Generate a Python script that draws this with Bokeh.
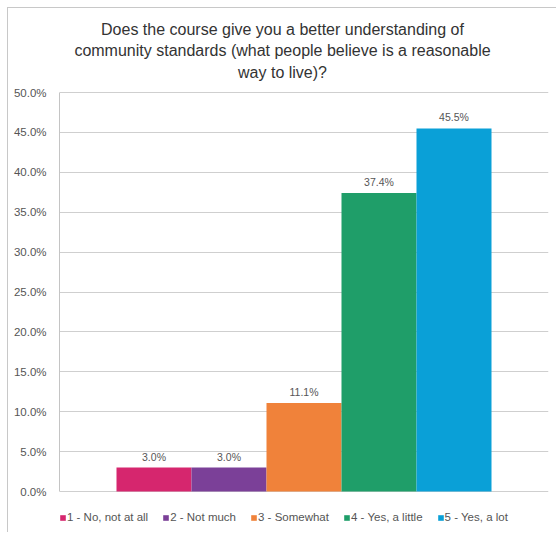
from bokeh.plotting import figure
from bokeh.models import (ColumnDataSource, FactorRange, NumeralTickFormatter, Label,
                          Range1d, FixedTicker)
from bokeh.core.properties import value
from bokeh.embed import file_html
from bokeh.resources import INLINE

categories = ["1 - No, not at all", "2 - Not much", "3 - Somewhat", "4 - Yes, a little", "5 - Yes, a lot"]
values = [0.030, 0.030, 0.111, 0.374, 0.455]
value_labels = ["3.0%", "3.0%", "11.1%", "37.4%", "45.5%"]
colors = ["#D6266E", "#7B4098", "#F0823A", "#1F9E69", "#0AA0D7"]
y_ticks = [0.0, 0.05, 0.10, 0.15, 0.20, 0.25, 0.30, 0.35, 0.40, 0.45, 0.50]
title_lines = ["Does the course give you a better understanding of",
               "community standards (what people believe is a reasonable",
               "way to live)?"]

FONT = "Liberation Sans"
OFF = 8            # canvas starts 8px in (7px margin + 1px frame line)
W, H = 557 - OFF, 533 - OFF
# value axis: 0 at page pixel 491, 0.5 at page pixel 92 (frame spans the whole canvas height)
PX_PER_UNIT = (491 - 92) / 0.5
y_lo = -(533 - 491) / PX_PER_UNIT
y_hi = 0.5 + (92 - OFF) / PX_PER_UNIT

src = ColumnDataSource(dict(cat=categories, val=values, lab=value_labels, col=colors))

p = figure(width=W, height=H, output_backend="svg", toolbar_location=None,
           x_range=FactorRange(factors=categories, range_padding=0.304),
           y_range=Range1d(y_lo, y_hi),
           min_border_left=59 - OFF, min_border_right=9, min_border_top=0, min_border_bottom=0)
p.margin = (7, 0, 0, 7)
p.styles = {"border-left": "1px solid #c8c8c8", "border-top": "1px solid #c8c8c8"}
p.outline_line_color = None
p.background_fill_color = "white"
p.border_fill_color = "white"

p.vbar(x="cat", top="val", width=1.0, source=src, fill_color="col", line_color=None,
       legend_field="cat")
p.text(x="cat", y="val", text="lab", source=src, text_align="center", text_baseline="bottom",
       y_offset=-5, text_font_size="10.5px", text_color="#555555", text_font=value(FONT))

p.xgrid.grid_line_color = None
p.ygrid.grid_line_color = "#cfcfcf"
p.ygrid.grid_line_width = 1

p.yaxis.ticker = FixedTicker(ticks=y_ticks)
p.yaxis.bounds = (0, 0.5)
p.yaxis.formatter = NumeralTickFormatter(format="0.0%")
p.yaxis.major_tick_line_color = None
p.yaxis.minor_tick_line_color = None
p.yaxis.axis_line_color = "#c4c4c4"
p.yaxis.major_label_text_font_size = "11.5px"
p.yaxis.major_label_text_color = "#555555"
p.yaxis.major_label_text_font = FONT
p.yaxis.major_label_standoff = 7
p.xaxis.visible = False

leg = p.legend[0]
leg.orientation = "horizontal"
leg.location = (0, 10)
leg.padding = 0
leg.margin = 0
leg.spacing = 14
leg.label_standoff = 1
leg.glyph_width = 7
leg.glyph_height = 7
leg.label_height = 7
leg.label_text_font_size = "11.5px"
leg.label_text_color = "#555555"
leg.label_text_font = FONT
leg.background_fill_alpha = 0
leg.border_line_color = None

title_y = [28.5, 50, 71.5]
for line, ty in zip(title_lines, title_y):
    p.add_layout(Label(x=282 - 59, y=533 - ty, x_units="screen", y_units="screen", text=line,
                       text_align="center", text_baseline="middle", text_font_size="16px",
                       text_color="#333333", text_font=FONT))

open("out.html", "w").write(file_html(p, INLINE))
